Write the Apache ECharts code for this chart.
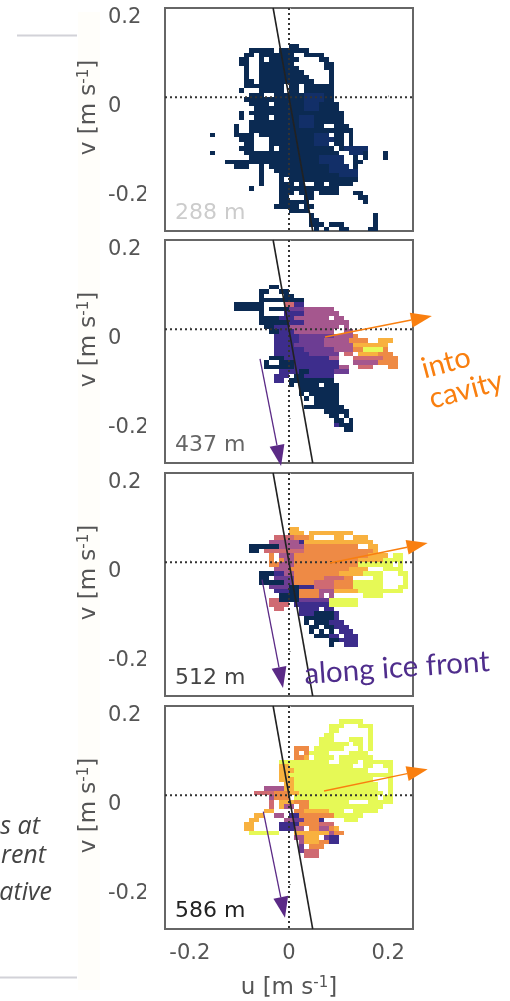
<!DOCTYPE html>
<html><head><meta charset="utf-8">
<style>html,body{margin:0;padding:0;background:#fff}#c{width:510px;height:1001px;filter:blur(0.45px)}</style>
<script src="https://cdn.jsdelivr.net/npm/echarts@6/dist/echarts.min.js"></script>
</head><body><div id="c"></div>
<script>
const depthLabels = ['288 m','437 m','512 m','586 m'];
const depthColors = ['#cccccc','#666666','#444444','#222222'];
const tickValues = [-0.2,0,0.2];
const levelColors = ['#0b2a52','#122f68','#3d2d8c','#6c3d93','#a5578e','#cf6a72','#ee8a45','#f8b13f','#e6f956'];
const frontLineU = [-0.032,0.0478];
const frontLineV = [0.2,-0.3];
const binSize = 0.01;
// velocity histogram bins: [row from top, first column, last column, level]; level 0 clears a bin
const bins288 = [[8,25,26,1],[9,17,21,1],[9,23,28,1],[10,16,17,1],[10,19,25,1],[10,28,31,1],[11,15,16,1],[11,19,26,1],[11,31,32,1],[11,20,20,0],
[12,15,16,1],[12,19,25,1],[12,32,33,1],[13,16,16,1],[13,19,26,1],[13,32,33,1],[14,16,16,1],[14,19,27,1],[14,33,33,1],[15,16,16,1],[15,19,28,1],[15,33,33,1],
[16,16,17,1],[16,19,29,1],[16,33,33,1],[17,16,19,1],[17,20,23,1],[17,25,26,1],[17,28,33,1],[18,15,15,1],[18,19,23,1],[18,25,26,1],[18,28,33,1],
[19,17,19,1],[19,22,33,1],[20,16,33,1],[21,17,20,1],[21,22,34,1],[22,18,34,1],[23,15,15,1],[23,17,35,1],[24,15,15,1],[24,18,20,1],[24,22,35,1],[25,17,35,1],
[26,14,14,1],[26,17,31,1],[26,34,36,1],[27,14,14,1],[27,17,37,1],[28,9,9,1],[28,14,17,1],[28,19,32,1],[28,34,35,1],[28,37,37,1],[29,15,17,1],[29,21,35,1],[29,37,37,1],
[30,16,17,1],[30,21,32,1],[30,34,37,1],[31,15,17,1],[31,21,21,1],[31,23,33,1],[31,35,40,1],[32,9,9,1],[32,16,34,1],[32,37,40,1],[32,44,44,1],[33,17,36,1],[33,38,38,1],[33,40,40,1],[33,44,44,1],
[34,12,35,1],[34,38,39,1],[35,14,16,1],[35,19,19,1],[35,21,36,1],[35,38,38,1],[36,19,19,1],[36,22,38,1],[37,19,19,1],[37,23,38,1],[38,19,19,1],[38,23,23,1],[38,25,38,1],
[39,19,19,1],[39,23,25,1],[39,27,27,1],[39,30,31,1],[39,33,37,1],[40,17,17,1],[40,23,34,1],[41,23,25,1],[41,27,29,1],[41,31,34,1],[41,38,39,1],[42,23,24,1],[42,28,29,1],[42,39,40,1],[43,23,28,1],[43,40,40,1],
[44,22,26,1],[44,28,29,1],[45,25,28,1],[46,29,29,1],[46,42,42,1],[47,29,30,1],[47,42,42,1],[48,29,31,1],[48,33,35,1],[48,42,42,1],[49,30,30,1],[49,32,32,1],[49,35,36,1],[49,41,42,1],
[19,28,31,2],[20,28,31,2],[21,28,30,2],[22,28,30,2],[24,27,29,2],[25,27,29,2],[26,27,29,2],[28,30,32,2],[29,30,33,2],[30,30,32,2],[33,31,35,2],[34,31,35,2],[35,33,36,2],[36,33,38,2],[37,35,38,2],[31,36,40,2],[32,37,39,2]];
const bins437 = [[10,21,22,1],[11,19,20,1],[11,23,24,1],[12,19,19,1],[12,24,25,1],[13,19,27,1],[14,14,19,1],[14,24,25,6],[14,26,27,3],[15,14,19,1],[15,21,24,1],[15,25,27,4],[15,28,33,5],
[16,19,19,1],[16,24,27,3],[16,28,34,5],[17,19,22,1],[17,23,25,3],[17,26,32,5],[17,34,35,5],[18,19,24,1],[18,25,27,3],[18,28,33,5],[18,34,36,5],[19,20,21,1],[19,22,24,3],[19,25,34,5],[19,36,36,5],
[20,21,22,1],[20,23,25,3],[20,26,33,5],[20,36,37,5],[21,22,26,3],[21,27,33,4],[21,34,37,5],[21,38,38,7],[22,22,26,3],[22,27,31,4],[22,32,36,5],[22,37,40,7],[22,43,45,8],
[23,22,25,3],[23,26,31,4],[23,32,37,5],[23,38,44,8],[24,22,27,3],[24,28,33,4],[24,34,37,5],[24,38,39,7],[24,40,43,9],[24,44,44,7],[25,22,28,3],[25,29,34,4],[25,36,37,6],[25,39,42,8],[25,43,45,7],
[26,21,23,1],[26,24,32,3],[26,33,34,5],[26,38,44,6],[26,44,46,7],[27,20,20,1],[27,23,25,1],[27,26,34,3],[27,38,42,5],[27,43,46,7],[28,20,25,1],[28,26,34,3],[28,35,36,5],[28,39,41,6],[28,45,46,7],
[29,23,26,3],[29,27,28,1],[29,29,33,3],[29,34,36,4],[30,22,24,3],[30,26,27,1],[30,28,33,3],[31,22,23,3],[31,25,33,1],[32,25,25,1],[32,27,28,1],[32,29,30,1],[32,32,34,1],[33,27,34,1],[34,27,27,1],[34,29,34,1],
[35,28,28,1],[35,30,34,1],[36,30,34,1],[37,28,31,1],[37,32,35,1],[38,32,36,1],[39,33,34,1],[39,36,36,1],[40,34,35,1],[40,37,37,1],[41,34,34,3],[41,35,37,1],[42,36,37,1]];
const bins512 = [[12,25,26,8],[13,25,27,8],[13,29,37,8],[14,22,25,6],[14,26,28,7],[14,29,29,8],[14,34,35,8],[14,38,40,8],[15,21,26,5],[15,27,27,3],[15,28,39,8],[15,40,41,8],
[16,17,22,1],[16,23,27,5],[16,28,38,7],[16,41,42,8],[17,17,18,1],[17,20,27,6],[17,28,41,7],[17,42,42,8],[18,21,21,7],[18,23,25,5],[18,26,40,7],[18,41,44,8],[18,46,47,9],
[19,21,21,7],[19,23,23,7],[19,24,25,5],[19,26,38,7],[19,39,43,8],[19,44,47,9],[20,21,22,7],[20,23,25,5],[20,26,38,7],[20,39,45,9],[20,47,47,9],[21,22,24,5],[21,25,36,7],[21,37,40,8],[21,44,47,9],
[22,19,21,1],[22,22,23,3],[22,24,25,5],[22,26,34,7],[22,35,39,8],[22,40,43,9],[22,47,48,9],[23,19,19,1],[23,20,20,1],[23,22,25,4],[23,26,31,7],[23,32,35,6],[23,36,37,7],[23,42,43,9],[23,48,48,9],
[24,19,23,1],[24,24,25,4],[24,26,29,7],[24,30,33,6],[24,34,37,7],[24,38,43,9],[24,48,48,9],[25,21,24,4],[25,25,26,1],[25,27,29,3],[25,30,33,6],[25,34,37,7],[25,38,43,9],[25,47,48,9],
[26,22,24,3],[26,25,26,1],[26,27,30,7],[26,31,33,5],[26,34,38,8],[26,39,47,9],[27,23,26,1],[27,27,30,7],[27,31,31,5],[27,33,33,5],[27,40,43,9],[28,21,22,6],[28,23,26,1],[28,27,32,4],[28,33,38,9],
[29,21,24,6],[29,26,32,3],[29,33,38,9],[30,22,23,6],[30,27,30,3],[30,32,33,3],[31,27,29,3],[31,30,33,1],[31,34,34,3],[32,28,33,1],[32,34,34,3],[33,28,29,1],[33,30,32,1],[33,33,35,3],
[34,29,30,1],[34,32,33,1],[34,34,36,3],[35,29,29,1],[35,31,31,1],[35,33,33,1],[35,35,37,3],[36,30,32,1],[36,33,34,3],[36,36,38,3],[37,33,34,1],[37,35,38,3],[38,33,33,1],[38,36,38,3]];
const bins586 = [[3,35,39,9],[4,33,35,9],[4,39,41,9],[5,33,34,9],[5,41,41,9],[6,32,33,9],[6,41,41,9],[7,31,33,9],[7,37,39,9],[7,41,41,9],[8,31,36,9],[8,38,39,9],[8,41,41,9],[9,26,28,7],[9,30,35,9],[9,39,39,9],[9,41,41,9],
[10,26,26,7],[10,28,28,7],[10,29,32,9],[10,37,40,9],[11,26,27,7],[11,28,28,8],[11,30,33,9],[11,35,41,9],[12,23,32,9],[12,35,38,9],[12,40,45,9],[13,23,24,8],[13,25,37,9],[13,40,41,9],[13,44,45,9],
[14,23,25,8],[14,26,40,9],[14,45,45,9],[15,23,24,8],[15,25,43,9],[15,44,45,9],[16,23,25,8],[16,26,41,9],[16,45,45,9],[17,24,25,8],[17,26,42,9],[17,45,45,9],[18,20,23,5],[18,24,25,8],[18,26,43,9],[18,45,45,9],
[19,18,21,6],[19,22,24,7],[19,25,26,8],[19,27,43,9],[19,45,45,9],[20,21,21,5],[20,22,24,7],[20,26,42,9],[20,44,45,9],[21,21,21,6],[21,23,25,8],[21,26,28,7],[21,29,36,9],[21,41,45,9],
[22,21,21,6],[22,23,23,8],[22,24,25,5],[22,27,28,7],[22,29,37,9],[22,38,43,9],[23,20,21,8],[23,26,27,7],[23,28,32,8],[23,33,35,9],[23,38,42,9],[24,18,19,8],[24,22,23,5],[24,25,26,3],[24,27,33,7],[24,34,39,9],
[25,17,18,8],[25,24,25,5],[25,26,27,4],[25,28,30,7],[25,31,31,3],[25,36,38,9],[26,16,17,8],[26,23,26,3],[26,27,30,7],[26,31,33,6],[27,16,17,8],[27,23,25,3],[27,26,27,5],[27,29,30,7],[27,31,32,5],[27,33,33,7],[27,34,34,8],
[28,17,22,9],[28,26,27,8],[28,28,32,8],[28,33,33,5],[28,34,35,7],[29,26,27,5],[29,28,30,8],[29,32,33,4],[29,33,34,3],[30,27,27,5],[30,28,30,8],[30,31,32,7],[30,33,34,3],[31,27,27,4],[31,29,31,7],[32,27,27,4],[32,28,30,6],[33,28,30,6]];
const panelBins = [bins288,bins437,bins512,bins586];
const holes = [
 [[29,18,20,0],[30,18,20,0],[31,18,20,0],[18,24,24,0],[18,27,27,0],[38,24,24,0],[30,33,33,0],[31,34,34,0],[28,36,36,0],[30,36,36,0],[32,35,36,0],[33,36,37,0],[35,37,37,0]],
 [[12,20,23,0],[14,20,23,0],[16,20,23,0],[27,21,22,0],[26,35,37,0],[27,35,37,0],[28,37,38,0],[25,38,38,0],[19,35,35,0],[20,34,35,0],[32,26,26,0],[32,31,31,0],[34,28,28,0],[35,29,29,0],[39,35,35,0],[40,36,36,0]],
 [[14,30,33,0],[14,36,37,0],[16,39,40,0],[18,22,22,0],[19,22,22,0],[21,41,43,0],[22,44,46,0],[23,38,41,0],[23,44,47,0],[24,44,47,0],[25,44,46,0],[27,32,32,0],[27,34,39,0],[30,31,31,0],[33,29,29,0],[34,31,31,0],[35,30,30,0],[35,32,32,0],[35,34,34,0],[36,35,35,0]],
 [[10,33,36,0],[12,33,34,0],[13,38,39,0],[13,42,43,0],[14,41,44,0],[16,42,44,0],[18,43,44,0],[19,44,44,0],[21,37,40,0],[21,22,22,0],[22,22,22,0],[23,36,37,0]]
];
// arrows in axis units: [u start, v start, u tip, v tip]
const intoCavity = [null,[0.0726,-0.0175,0.288,0.0296],[0.0827,-0.0018,0.2796,0.043],[0.0706,0.0094,0.2796,0.058]];
const alongFront = [null,[-0.0585,-0.0668,-0.016,-0.3067],[-0.0544,-0.0392,-0.0121,-0.282],[-0.0518,-0.037,-0.0081,-0.275]];

const gridTops = [8,240,473,706];
function cells(p){
  const m = {};
  [...panelBins[p],...holes[p]].forEach(([r,a,b,l])=>{for(let c=a;c<=b;c++){m[c+','+r]=l;}});
  return Object.keys(m).filter(k=>m[k]>0).map(k=>{const [c,r]=k.split(',').map(Number);return [-0.25+binSize*c,0.2-binSize*r,m[k]];});
}
function cellRender(params,api){
  const a=api.coord([api.value(0),api.value(1)]), b=api.coord([api.value(0)+binSize,api.value(1)-binSize]);
  const x=Math.round(a[0]),y=Math.round(a[1]);
  return {type:'rect',shape:{x,y,width:Math.round(b[0])-x,height:Math.round(b[1])-y},style:{fill:api.visual('color')}};
}
function arrowRender(color,w,len,half){
  return function(params,api){
    const s=api.coord([api.value(0),api.value(1)]), t=api.coord([api.value(2),api.value(3)]);
    const dx=t[0]-s[0],dy=t[1]-s[1],d=Math.hypot(dx,dy),ux=dx/d,uy=dy/d;
    const bx=t[0]-ux*len,by=t[1]-uy*len;
    return {type:'group',children:[
      {type:'line',shape:{x1:s[0],y1:s[1],x2:bx,y2:by},style:{stroke:color,lineWidth:w}},
      {type:'polygon',shape:{points:[t,[bx-uy*half,by+ux*half],[bx+uy*half,by-ux*half]]},style:{fill:color}}
    ]};
  };
}
const grids=[],xAxes=[],yAxes=[],series=[],graphics=[];
const labelFont={fontFamily:'DejaVu Sans',fontSize:21,color:'#555'};
const nameFont={fontFamily:'DejaVu Sans',fontSize:23,color:'#555'};
const nameRich={sup:{fontFamily:'DejaVu Sans',fontSize:15,color:'#555',padding:[0,0,10,0]}};
gridTops.forEach((top,p)=>{
  grids.push({left:165,width:248,top:top,height:223,show:true,backgroundColor:'#fff',borderColor:'#666',borderWidth:2});
  const bottom=p===3;
  xAxes.push({type:'value',gridIndex:p,min:-0.25,max:0.25,splitLine:{show:false},axisLine:{show:false},
    axisTick:{show:true,inside:true,length:2,lineStyle:{color:'#aaa'},customValues:tickValues},
    axisLabel:{show:bottom,...labelFont,margin:14,customValues:tickValues,formatter:v=>String(v)},
    name:bottom?'u [m s{sup|-1}]':'',nameLocation:'middle',nameGap:47,
    nameTextStyle:{...nameFont,rich:nameRich}});
  yAxes.push({type:'value',gridIndex:p,min:-0.3,max:0.2,splitLine:{show:false},axisLine:{show:false},
    axisTick:{show:true,inside:true,length:2,lineStyle:{color:'#aaa'},customValues:tickValues},
    axisLabel:{...labelFont,align:'left',verticalAlign:'top',lineHeight:19,margin:57,customValues:tickValues,formatter:v=>String(v)},
    name:'v [m s{sup|-1}]',nameLocation:'middle',nameGap:63,nameRotate:90,
    nameTextStyle:{...nameFont,rich:nameRich,padding:[0,0,0,24]}});
  series.push({type:'custom',name:'cells'+p,xAxisIndex:p,yAxisIndex:p,data:cells(p),encode:{x:0,y:1},renderItem:cellRender,z:2,animation:false,silent:true,progressive:0});
  const ln=(data,style)=>({type:'line',xAxisIndex:p,yAxisIndex:p,data,symbol:'none',silent:true,animation:false,z:3,lineStyle:style});
  series.push(ln([[-0.25,0],[0.25,0]],{color:'#333',width:2,type:[2,3]}));
  series.push(ln([[0,0.2],[0,-0.3]],{color:'#333',width:2,type:[2,3]}));
  series.push(ln(frontLineU.map((u,i)=>[u,frontLineV[i]]),{color:'#222',width:1.6}));
  if(intoCavity[p]){
    series.push({type:'custom',xAxisIndex:p,yAxisIndex:p,data:[intoCavity[p]],encode:{x:[0,2],y:[1,3]},renderItem:arrowRender('#f97f0f',1.5,21,7.5),z:5,animation:false,silent:true});
    series.push({type:'custom',xAxisIndex:p,yAxisIndex:p,data:[alongFront[p]],encode:{x:[0,2],y:[1,3]},renderItem:arrowRender('#5b2a86',1.3,21,7.5),z:5,animation:false,silent:true});
  }
  graphics.push({type:'text',x:175,y:top+205,z:50,style:{text:depthLabels[p],fontFamily:'DejaVu Sans',fontSize:22,fill:depthColors[p],verticalAlign:'middle'}});
});
const cellIdx=series.map((s,i)=>s.name&&s.name.startsWith('cells')?i:-1).filter(i=>i>=0);
graphics.push(
 {type:'rect',z:-1,shape:{x:78,y:12,width:22,height:978},style:{fill:'#fffefa'}},
 {type:'rect',z:40,shape:{x:146,y:0,width:17.5,height:940},style:{fill:'#fff'}},
 {type:'rect',z:1,shape:{x:17,y:34.5,width:60,height:2},style:{fill:'#d2d2d8'}},
 {type:'rect',z:1,shape:{x:0,y:976.5,width:77,height:2},style:{fill:'#d2d2d8'}},
 {type:'text',z:50,x:40,y:827,style:{text:'s at',fontFamily:'Open Sans',fontStyle:'italic',fontSize:25,fill:'#444',align:'right',verticalAlign:'middle'}},
 {type:'text',z:50,x:46,y:856,style:{text:'rent',fontFamily:'Open Sans',fontStyle:'italic',fontSize:25,fill:'#444',align:'right',verticalAlign:'middle'}},
 {type:'text',z:50,x:52,y:893,style:{text:'ative',fontFamily:'Open Sans',fontStyle:'italic',fontSize:25,fill:'#444',align:'right',verticalAlign:'middle'}},
 {type:'text',z:50,x:446,y:363,rotation:15*Math.PI/180,style:{text:'into',fontFamily:'Lato',fontSize:29,fill:'#f97f0f',align:'center',verticalAlign:'middle'}},
 {type:'text',z:50,x:466,y:390,rotation:15*Math.PI/180,style:{text:'cavity',fontFamily:'Lato',fontSize:29,fill:'#f97f0f',align:'center',verticalAlign:'middle'}},
 {type:'text',z:50,x:397,y:668,rotation:4*Math.PI/180,style:{text:'along ice front',fontFamily:'Lato',fontSize:29.5,fill:'#4f2d8c',align:'center',verticalAlign:'middle'}}
);
const chart=echarts.init(document.getElementById('c'),null,{renderer:'canvas'});
chart.setOption({animation:false,backgroundColor:'#fff',grid:grids,xAxis:xAxes,yAxis:yAxes,
  visualMap:{show:false,min:1,max:9,dimension:2,seriesIndex:cellIdx,calculable:false,inRange:{color:levelColors}},
  series,graphic:{elements:graphics}});
</script></body></html>
